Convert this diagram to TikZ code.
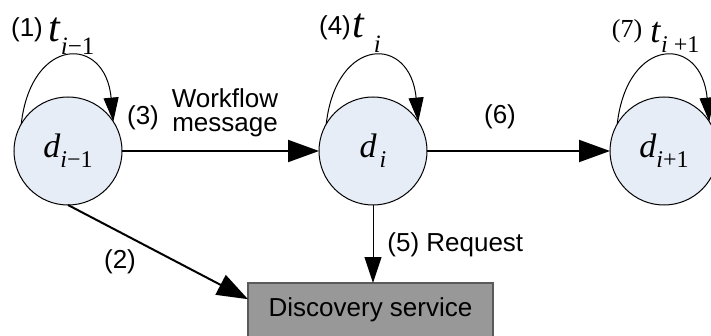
\documentclass[tikz,border=0pt]{standalone}
\usepackage{fontspec}
\setmainfont{Liberation Sans}
\newfontfamily\timesfont{Liberation Serif}
\usetikzlibrary{
    arrows.meta,
    calc
}
\definecolor{devicefill}{RGB}{230,237,247}
\definecolor{servicefill}{RGB}{152,152,152}
\definecolor{serviceline}{RGB}{90,90,90}
% lowered index: [drop]{size}{text}
\newcommand{\lowsub}[3][5pt]{\raisebox{-#1}{\fontsize{#2}{#2}\selectfont #3}}
\tikzset{
    % Nodes
    device/.style={circle,draw=black,line width=0.5pt,fill=devicefill,
        minimum size=54pt,inner sep=0pt,outer sep=0pt,font=\timesfont\fontsize{17}{20}\selectfont},
    service/.style={rectangle,draw=serviceline,line width=0.6pt,fill=servicefill,
        minimum width=122.5pt,minimum height=27pt,outer sep=0pt,font=\fontsize{13}{15}\selectfont},
    label text/.style={inner sep=0pt,font=\fontsize{13}{15}\selectfont},
    time label/.style={inner sep=0pt,anchor=base west,font=\timesfont\fontsize{21}{22}\selectfont},
    %
    % Arrows
    big tip/.tip={Triangle[length=15.5pt,width=11pt]},
    small tip/.tip={Triangle[length=13pt,width=8.5pt]},
    loop tip/.tip={Triangle[length=12pt,width=7.5pt]},
    msg arr/.style={-{big tip},line width=1pt},
    req arr/.style={-{small tip},line width=0.5pt},
    loop arr/.style={-{loop tip},line width=0.5pt}
}

\begin{document}
\begin{tikzpicture}[x=0.5pt,y=-0.5pt]
    \useasboundingbox (0,0) rectangle (711,336);

    % devices and the discovery service
    \node[device] (dprev) at (68,151) {\raisebox{2pt}{\textit{d}\lowsub{12}{\textit{i}−1}}};
    \node[device] (dcur) at (373,151) {\raisebox{2pt}{\textit{d}\hspace{1.5pt}\lowsub{12}{\textit{i}}}};
    \node[device] (dnext) at (664,151) {\raisebox{2pt}{\textit{d}\lowsub{12}{\textit{i}+1}}};
    \node[service] (disc) at (370.5,310) {Discovery service};

    % local processing loops
    \draw[loop arr] (dprev.150) .. controls +(10,-88) and +(-8,-87) .. (dprev.33);
    \draw[loop arr] (dcur.150) .. controls +(10,-88) and +(-8,-87) .. (dcur.33);
    \draw[loop arr] (dnext.150) .. controls +(10,-88) and +(-8,-87) .. (dnext.33);
    \node[label text] (step1) at (27,30) {(1)};
    \node[time label] (tprev) at (48,42) {\textit{t}\lowsub[6.5pt]{12.5}{\textit{i}−1}};
    \node[label text] (step4) at (335,28) {(4)};
    \node[time label] (tcur) at (352,38) {\textit{t}\hspace{4.5pt}\lowsub[7.5pt]{12.5}{\textit{i}}};
    \node[label text,font=\timesfont\fontsize{13}{14}\selectfont] (step7) at (627,31) {(7)};
    \node[time label,font=\timesfont\fontsize{18}{20}\selectfont] (tnext) at (650,43) {\textit{t}\lowsub{12}{\textit{i} +1}};

    % messages between devices
    \draw[msg arr] (dprev.east) -- (dcur.west);
    \draw[msg arr] (dcur.east) -- (dnext.west);
    \node[label text] (step3) at (143,118) {(3)};
    \node[label text,anchor=base] (wfline1) at (225,108) {Workflow};
    \node[label text,anchor=base] (wfline2) at (225,132) {message};
    \node[label text] (step6) at (500,117) {(6)};

    % requests to the discovery service
    \coordinate (disc in) at ($(disc.north west)!0.3!(disc.south west)$);
    \draw[msg arr] (dprev.south) -- (disc in);
    \draw[req arr] (dcur.south) -- (dcur.south |- disc.north);
    \node[label text] (step2) at (120,262) {(2)};
    \node[label text,anchor=west] (step5) at (387,245) {(5) Request};
\end{tikzpicture}
\end{document}
